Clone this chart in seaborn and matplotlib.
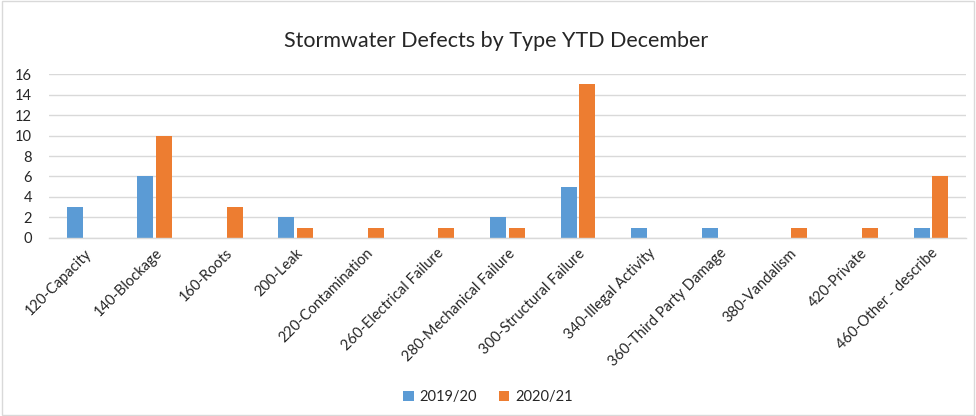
import numpy as np
import pandas as pd
import matplotlib
matplotlib.use("Agg")
import matplotlib.pyplot as plt
import seaborn as sns
from matplotlib.patches import Rectangle

categories = [
    "120-Capacity", "140-Blockage", "160-Roots", "200-Leak", "220-Contamination",
    "260-Electrical Failure", "280-Mechanical Failure", "300-Structural Failure",
    "340-Illegal Activity", "360-Third Party Damage", "380-Vandalism",
    "420-Private", "460-Other - describe",
]
values_1920 = [3, 6, 0, 2, 0, 0, 2, 5, 1, 1, 0, 0, 1]
values_2021 = [0, 10, 3, 1, 1, 1, 1, 15, 0, 0, 1, 1, 6]
series = ["2019/20", "2020/21"]
colors = ["#5B9BD5", "#ED7D31"]

df = pd.DataFrame({
    "Type": categories * 2,
    "Year": [series[0]] * len(categories) + [series[1]] * len(categories),
    "Count": values_1920 + values_2021,
})

sns.set_theme(style="white")
plt.rcParams["font.family"] = ["Lato", "DejaVu Sans"]

fig = plt.figure(figsize=(9.76, 4.16), dpi=100)
ax = fig.add_axes([0.050, 0.428, 0.940, 0.394])

sns.barplot(data=df, x="Type", y="Count", hue="Year", palette=colors,
            saturation=1, width=0.53, gap=0.14, ax=ax, legend=True, linewidth=0)

ax.set_ylim(0, 16)
ax.set_yticks(range(0, 17, 2))
ax.yaxis.grid(True, color="#D9D9D9", linewidth=1)
ax.set_axisbelow(True)
ax.set_xlim(-0.5, len(categories) - 0.5)
for side in ["left", "right", "top"]:
    ax.spines[side].set_visible(False)
ax.spines["bottom"].set_color("#D9D9D9")
ax.spines["bottom"].set_linewidth(1)
ax.tick_params(axis="both", length=0, labelsize=10.5, colors="#262626", pad=6)
ax.tick_params(axis="y", pad=12)
plt.setp(ax.get_xticklabels(), rotation=45, ha="right", rotation_mode="anchor")
ax.set_xlabel("")
ax.set_ylabel("")

fig.suptitle("Stormwater Defects by Type YTD December", x=0.508, y=0.925,
             fontsize=15.5, color="#262626")

handles, labels = ax.get_legend_handles_labels()
ax.legend(handles, labels, loc="center", bbox_to_anchor=(0.5, 0.045),
          bbox_transform=fig.transFigure, ncol=2, frameon=False, fontsize=10.5,
          handlelength=0.7, handleheight=0.7, handletextpad=0.4, columnspacing=1.5)

fig.patches.append(Rectangle((0.002, 0.002), 0.996, 0.996, transform=fig.transFigure,
                             fill=False, edgecolor="#D9D9D9", linewidth=1))

fig.savefig("out.png", dpi=100)
